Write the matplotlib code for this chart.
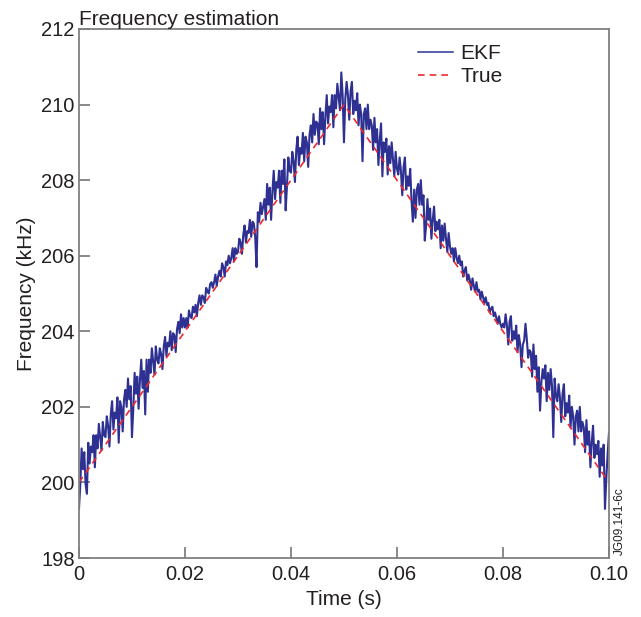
import matplotlib
matplotlib.use("Agg")
import numpy as np
import matplotlib.pyplot as plt

# true frequency sweep (kHz)
true_t = [0.0, 0.05, 0.10]
true_f = [200.0, 210.0, 200.0]

# EKF estimate, one value every 0.25 ms (kHz)
ekf_f = [
    199.30, 199.95, 200.90, 200.35, 200.80, 199.95, 199.70, 201.05, 200.50, 200.95,
    200.80, 201.25, 200.40, 201.25, 200.90, 201.55, 201.20, 200.85, 201.60, 201.25,
    201.20, 201.75, 201.50, 200.95, 201.80, 202.15, 201.40, 201.85, 201.70, 202.25,
    201.05, 202.15, 202.00, 201.35, 202.20, 202.45, 202.00, 202.75, 202.20, 202.55,
    201.20, 201.95, 202.90, 202.35, 202.80, 201.95, 202.70, 203.25, 202.50, 202.95,
    201.80, 203.25, 202.40, 203.25, 202.90, 203.55, 203.20, 202.85, 203.60, 203.25,
    203.15, 203.55, 203.40, 203.00, 203.60, 203.85, 203.35, 203.70, 203.60, 204.00,
    203.50, 203.95, 203.90, 203.45, 204.05, 204.25, 203.95, 204.45, 204.10, 204.35,
    204.10, 204.35, 204.10, 204.55, 204.40, 204.35, 204.65, 204.50, 204.70, 204.40,
    204.75, 204.95, 204.70, 204.95, 204.90, 204.75, 205.15, 205.05, 205.00, 205.25,
    205.30, 205.15, 205.30, 205.50, 205.20, 205.45, 205.60, 205.45, 205.80, 205.70,
    205.45, 205.85, 205.75, 206.00, 205.80, 205.95, 206.20, 205.85, 206.20, 206.05,
    206.10, 206.45, 206.35, 206.05, 206.55, 206.80, 206.35, 206.65, 206.60, 206.95,
    206.50, 206.90, 206.85, 206.50, 205.70, 207.15, 206.90, 207.40, 207.10, 207.30,
    207.50, 206.95, 207.90, 207.35, 207.80, 206.95, 207.70, 208.25, 207.50, 207.95,
    207.80, 208.25, 207.40, 208.25, 207.90, 208.55, 207.20, 207.85, 208.60, 208.25,
    208.20, 208.75, 208.50, 207.95, 208.80, 209.15, 208.40, 208.85, 208.70, 209.25,
    208.50, 209.15, 209.00, 208.35, 209.20, 209.45, 209.00, 209.75, 209.20, 209.55,
    209.50, 208.95, 209.90, 209.35, 209.80, 208.95, 209.70, 210.25, 209.50, 209.95,
    209.80, 210.25, 209.40, 210.25, 209.90, 210.55, 210.20, 209.85, 210.85, 210.25,
    209.00, 210.15, 210.60, 210.25, 209.60, 210.35, 210.60, 209.75, 210.10, 209.85,
    210.30, 209.45, 210.00, 209.75, 208.50, 209.75, 209.90, 209.35, 210.00, 209.35,
    209.60, 209.45, 208.80, 209.65, 209.00, 209.35, 208.40, 209.05, 209.50, 208.10,
    209.00, 208.75, 209.10, 208.15, 208.90, 208.45, 209.00, 208.55, 208.10, 208.75,
    208.30, 208.15, 208.60, 208.25, 207.60, 208.35, 208.60, 207.75, 208.10, 207.85,
    208.30, 207.45, 206.90, 207.75, 207.00, 207.75, 207.90, 207.35, 208.00, 207.35,
    207.60, 206.40, 206.80, 207.50, 206.95, 207.25, 206.45, 206.95, 207.30, 206.65,
    206.90, 206.70, 206.95, 206.20, 206.80, 206.40, 206.85, 206.45, 206.10, 206.60,
    206.25, 206.05, 206.20, 205.85, 206.20, 205.95, 205.80, 206.00, 205.75, 205.85,
    205.45, 205.60, 205.70, 205.35, 205.50, 205.35, 205.10, 205.40, 205.20, 205.05,
    205.30, 205.05, 205.10, 204.85, 205.05, 204.90, 204.75, 204.90, 204.70, 204.75,
    204.50, 204.60, 204.65, 204.40, 204.50, 204.35, 204.20, 204.40, 204.20, 204.10,
    204.20, 204.10, 204.45, 204.15, 203.65, 204.25, 204.40, 203.75, 204.00, 203.80,
    204.15, 203.45, 203.90, 203.65, 203.05, 203.65, 203.75, 204.20, 203.80, 203.30,
    203.50, 203.45, 202.80, 203.65, 203.00, 203.35, 202.40, 203.05, 201.90, 202.65,
    203.00, 202.75, 203.10, 202.15, 202.90, 202.45, 203.00, 202.55, 201.20, 202.75,
    202.30, 202.15, 202.60, 202.25, 201.60, 202.35, 202.60, 201.75, 202.10, 201.85,
    202.30, 201.45, 202.00, 201.75, 201.00, 201.75, 201.90, 201.35, 202.00, 201.35,
    201.60, 201.45, 200.80, 201.65, 201.00, 201.35, 200.40, 201.05, 201.50, 200.65,
    201.00, 200.75, 201.10, 200.15, 200.90, 200.45, 201.00, 199.30, 200.10, 200.75,
    201.30,
]
ekf_t = np.linspace(0, 0.10, len(ekf_f))

xticks = [0, 0.02, 0.04, 0.06, 0.08, 0.10]
xtick_labels = ["0", "0.02", "0.04", "0.06", "0.08", "0.10"]
yticks = [198, 200, 202, 204, 206, 208, 210, 212]

plt.rcParams['font.family'] = ['Liberation Sans', 'DejaVu Sans']

fig = plt.figure(figsize=(6.41, 6.17), dpi=100)
ax = fig.add_axes([0.1232, 0.0956, 0.8268, 0.8574])

ax.plot(ekf_t, ekf_f, color='#2e3192', lw=1.5, label='EKF')
ax.plot(true_t, true_f, color='#ec2a30', lw=1.2, ls=(0, (4, 3)), label='True')

ax.set_xlim(0, 0.10)
ax.set_ylim(198, 212)
ax.set_xticks(xticks)
ax.set_xticklabels(xtick_labels)
ax.set_yticks(yticks)
ax.tick_params(direction='in', length=8, width=1.3, color='#808080',
               labelcolor='#231f20', labelsize=14.5, top=False, right=False)
ax.tick_params(axis='x', pad=5)
ax.tick_params(axis='y', pad=3)
for s in ax.spines.values():
    s.set_color('#808080')
    s.set_linewidth(1.3)

ax.set_xlabel('Time (s)', fontsize=15, labelpad=4, color='#231f20')
ax.set_ylabel('Frequency (kHz)', fontsize=15, labelpad=4, color='#231f20')
ax.set_title('Frequency estimation', loc='left', fontsize=15, pad=2,
             color='#231f20')

leg = ax.legend(loc='upper left', bbox_to_anchor=(0.605, 1.007), frameon=False,
                fontsize=15, handlelength=1.65, handletextpad=0.35,
                labelspacing=0.2, labelcolor='#231f20')
leg.get_lines()[0].set_linewidth(1.1)

fig.text(0.958, 0.1, 'JG09.141-6c', rotation=90, fontsize=8.5,
         ha='left', va='bottom', color='#231f20')

fig.savefig('out.png', dpi=100)
